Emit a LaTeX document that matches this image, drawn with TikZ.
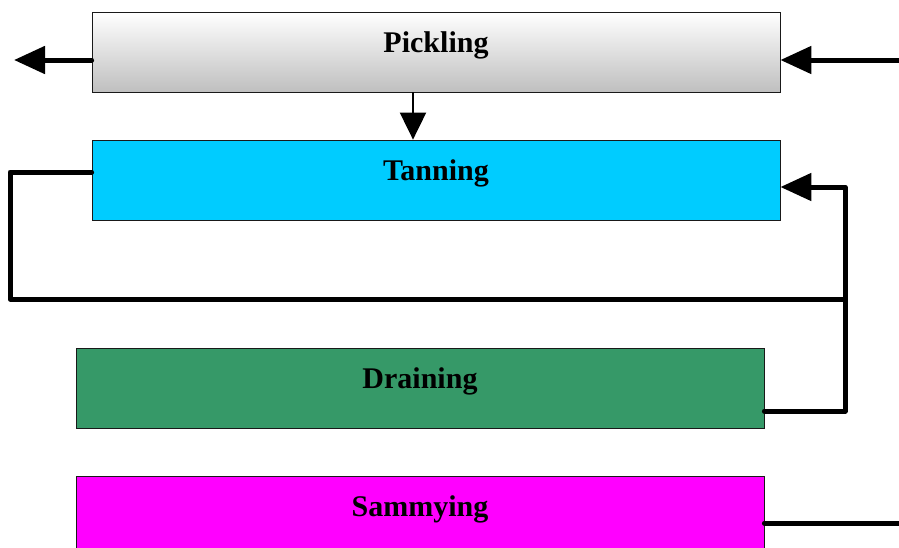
\documentclass[tikz,border=0pt]{standalone}
\usepackage{fontspec}
\setmainfont{Liberation Serif}
\usetikzlibrary{arrows.meta}
\begin{document}
\begin{tikzpicture}[x=1pt,y=-1pt,
  stagebox/.style={draw=black!90, line width=0.8pt, rectangle, inner sep=0pt,
    minimum width=688pt, minimum height=80pt, text height=40pt, text depth=40pt,
    font=\fontsize{30}{36}\selectfont\bfseries},
  flow/.style={line width=5pt, line cap=round, line join=round},
  bigtip/.style={flow, -{Triangle[length=31pt,width=27pt]}},
  smalltip/.style={line width=2pt, -{Triangle[length=27pt,width=26pt]}}]
\useasboundingbox (0,0) rectangle (899,547);
\clip (0,0) rectangle (899,547);
\node[stagebox, top color=white, bottom color=black!25] (P) at (436,52) {Pickling};
\node[stagebox, fill={rgb,255:red,0;green,204;blue,255}] (T) at (436,180) {Tanning};
\node[stagebox, fill={rgb,255:red,54;green,153;blue,104}] (D) at (420,388) {Draining};
\node[stagebox, fill={rgb,255:red,255;green,0;blue,255}] (S) at (420,516) {Sammying};
\coordinate (outL) at (14,60);
\coordinate (inR) at (899,60);
\coordinate (dx) at (413,0);
\coordinate (loopL) at (10,299);
\coordinate (loopR) at (845,299);
\coordinate (pout) at ([yshift=-8pt]P.west);
\coordinate (tout) at ([yshift=8pt]T.west);
\coordinate (tin) at ([yshift=-7pt]T.east);
\coordinate (dout) at ([yshift=-23pt]D.east);
\coordinate (sout) at ([yshift=-7pt]S.east);
\coordinate (outS) at (899,523);
\draw[bigtip] (pout) -- (outL);
\draw[bigtip] (inR) -- (inR -| P.east);
\draw[smalltip] (dx |- P.south) -- (dx |- T.north);
\draw[flow] (tout) -| (loopL) -- (loopR);
\draw[bigtip] (dout) -| (tin -| loopR) -- (tin);
\draw[flow] (sout) -- (outS);
\end{tikzpicture}
\end{document}
